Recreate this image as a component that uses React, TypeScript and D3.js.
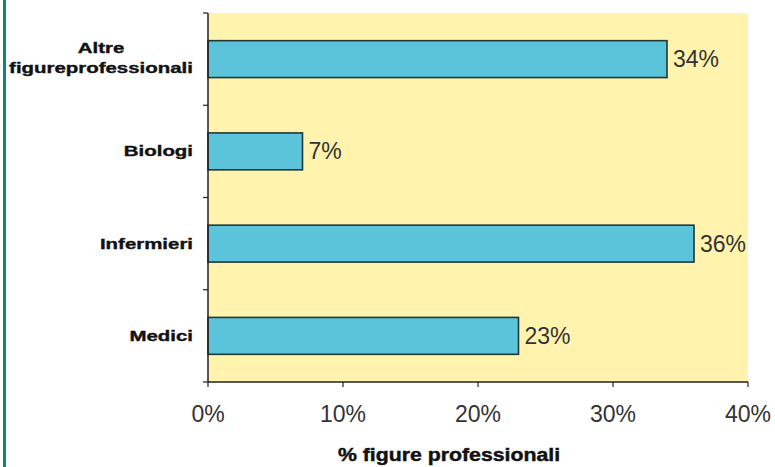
import React from "react";
import * as d3 from "d3";

const categories = ["Altre|figureprofessionali", "Biologi", "Infermieri", "Medici"];
const values = [34, 7, 36, 23];
const xTicks = [0, 10, 20, 30, 40];
const xTitle = "% figure professionali";

const W = 775, H = 467;
const M = { left: 208, right: 748, top: 13, bottom: 382 };
const SX = 1.46;

export default function App() {
  const x = d3.scaleLinear().domain([0, 40]).range([M.left, M.right]);
  const y = d3.scaleBand().domain(categories).range([M.top, M.bottom]).paddingInner(0.6).paddingOuter(0.3);
  const yb = d3.scaleBand().domain(categories).range([M.top, M.bottom]);
  const font = "Arial, 'Liberation Sans', sans-serif";
  const boldProps = { fontFamily: font, fontSize: 14, fontWeight: "bold", fill: "#111", stroke: "#111", strokeWidth: 0.35 };
  return (
    <svg width={W} height={H} style={{ position: "absolute", left: 0, top: 0, background: "#fff" }}>
      <rect x={3} y={0} width={3} height={H} fill="#0E8577" />
      <rect x={M.left} y={M.top} width={M.right - M.left} height={M.bottom - M.top} fill="#FFF3AE" />
      {categories.map((c, i) => (
        <rect key={c} x={x(0)} y={y(c)!} width={x(values[i]) - x(0)} height={y.bandwidth()}
          fill="#5BC4DA" stroke="#253636" strokeWidth={1.6} />
      ))}
      {categories.map((c, i) => (
        <text key={c + "v"} x={x(values[i]) + 6} y={y(c)! + y.bandwidth() / 2 + 8}
          fontFamily={font} fontSize={23} fill="#333">{values[i]}%</text>
      ))}
      {/* y axis */}
      <line x1={M.left} x2={M.left} y1={M.top} y2={M.bottom} stroke="#222" strokeWidth={1.5} />
      {[...categories.map(c => yb(c)!), M.bottom].map((t, i) => (
        <line key={"yt" + i} x1={M.left - 5} x2={M.left} y1={t} y2={t} stroke="#222" strokeWidth={1.2} />
      ))}
      {categories.map(c => {
        const lines = c.split("|");
        const cy = y(c)! + y.bandwidth() / 2;
        if (lines.length === 1) {
          return (
            <g key={c + "l"} transform={`translate(193,${cy + 5}) scale(${SX},1)`}>
              <text textAnchor="end" {...boldProps}>{lines[0]}</text>
            </g>
          );
        }
        return (
          <g key={c + "l"} transform={`translate(101,${cy - 6.5}) scale(${SX},1)`}>
            <text textAnchor="middle" {...boldProps}>
              {lines.map((l, j) => (
                <tspan key={j} x={0} dy={j === 0 ? 0 : 20}>{l}</tspan>
              ))}
            </text>
          </g>
        );
      })}
      {/* x axis */}
      <line x1={M.left} x2={M.right} y1={M.bottom} y2={M.bottom} stroke="#222" strokeWidth={1.5} />
      {xTicks.map(t => (
        <g key={"xt" + t}>
          <line x1={x(t)} x2={x(t)} y1={M.bottom} y2={M.bottom + 5} stroke="#222" strokeWidth={1.2} />
          <text x={x(t)} y={422} textAnchor="middle" fontFamily={font} fontSize={23} fill="#333">{t}%</text>
        </g>
      ))}
      <g transform={`translate(449,461) scale(1.12,1)`}>
        <text textAnchor="middle" {...boldProps} fontSize={19} strokeWidth={0.45}>{xTitle}</text>
      </g>
    </svg>
  );
}
